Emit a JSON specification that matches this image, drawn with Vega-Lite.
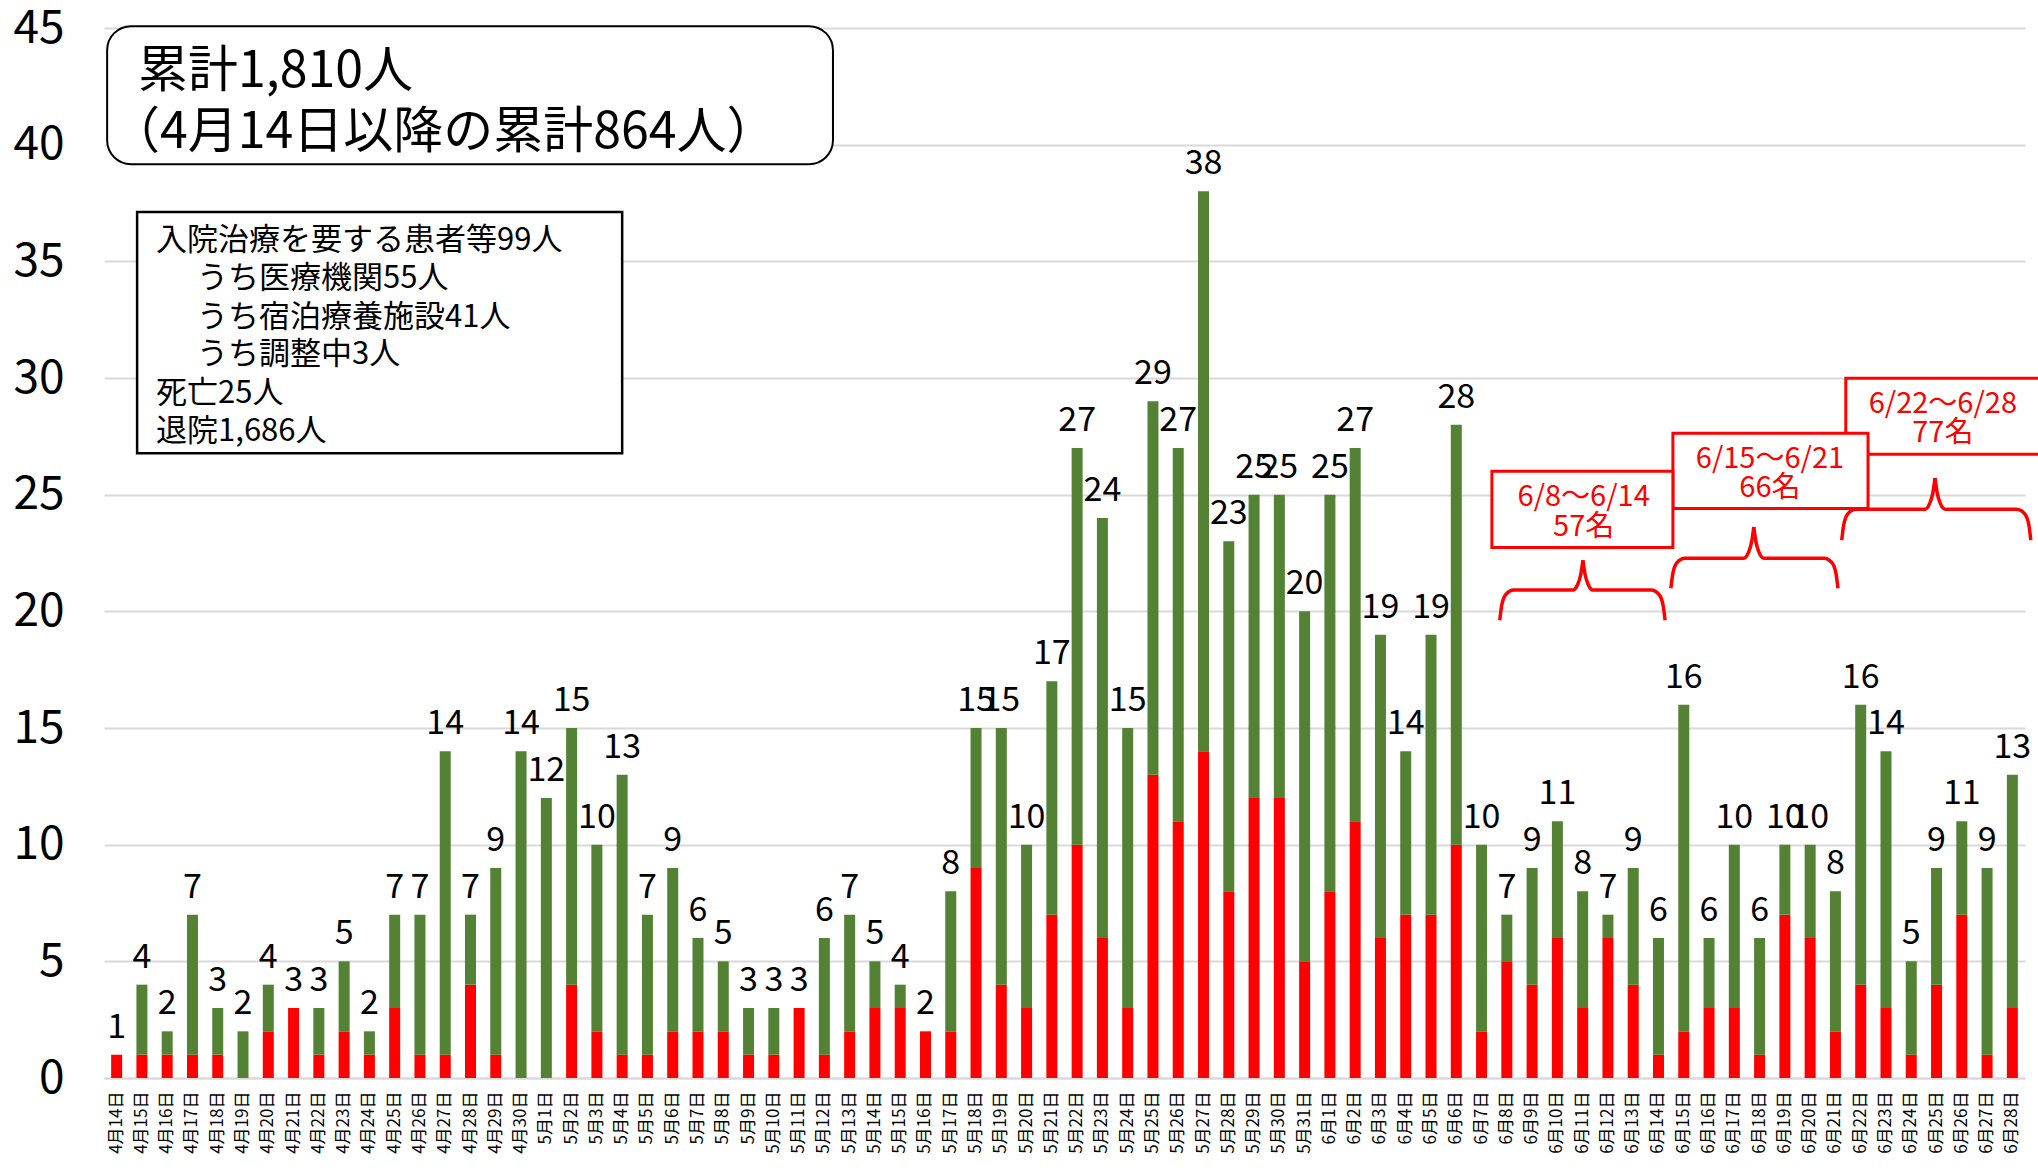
{
  "$schema": "https://vega.github.io/schema/vega-lite/v6.json",
  "width": 1921,
  "height": 1050,
  "autosize": {"type": "none"},
  "padding": {"left": 104, "top": 28, "right": 13, "bottom": 90},
  "background": "white",
  "config": {"view": {"stroke": null}, "font": "Noto Sans CJK JP", "text": {"font": "Noto Sans CJK JP"}},
  "datasets": {
    "bars": [
      {"date": "4月14日", "red": 1, "total": 1},
      {"date": "4月15日", "red": 1, "total": 4},
      {"date": "4月16日", "red": 1, "total": 2},
      {"date": "4月17日", "red": 1, "total": 7},
      {"date": "4月18日", "red": 1, "total": 3},
      {"date": "4月19日", "red": 0, "total": 2},
      {"date": "4月20日", "red": 2, "total": 4},
      {"date": "4月21日", "red": 3, "total": 3},
      {"date": "4月22日", "red": 1, "total": 3},
      {"date": "4月23日", "red": 2, "total": 5},
      {"date": "4月24日", "red": 1, "total": 2},
      {"date": "4月25日", "red": 3, "total": 7},
      {"date": "4月26日", "red": 1, "total": 7},
      {"date": "4月27日", "red": 1, "total": 14},
      {"date": "4月28日", "red": 4, "total": 7},
      {"date": "4月29日", "red": 1, "total": 9},
      {"date": "4月30日", "red": 0, "total": 14},
      {"date": "5月1日", "red": 0, "total": 12},
      {"date": "5月2日", "red": 4, "total": 15},
      {"date": "5月3日", "red": 2, "total": 10},
      {"date": "5月4日", "red": 1, "total": 13},
      {"date": "5月5日", "red": 1, "total": 7},
      {"date": "5月6日", "red": 2, "total": 9},
      {"date": "5月7日", "red": 2, "total": 6},
      {"date": "5月8日", "red": 2, "total": 5},
      {"date": "5月9日", "red": 1, "total": 3},
      {"date": "5月10日", "red": 1, "total": 3},
      {"date": "5月11日", "red": 3, "total": 3},
      {"date": "5月12日", "red": 1, "total": 6},
      {"date": "5月13日", "red": 2, "total": 7},
      {"date": "5月14日", "red": 3, "total": 5},
      {"date": "5月15日", "red": 3, "total": 4},
      {"date": "5月16日", "red": 2, "total": 2},
      {"date": "5月17日", "red": 2, "total": 8},
      {"date": "5月18日", "red": 9, "total": 15},
      {"date": "5月19日", "red": 4, "total": 15},
      {"date": "5月20日", "red": 3, "total": 10},
      {"date": "5月21日", "red": 7, "total": 17},
      {"date": "5月22日", "red": 10, "total": 27},
      {"date": "5月23日", "red": 6, "total": 24},
      {"date": "5月24日", "red": 3, "total": 15},
      {"date": "5月25日", "red": 13, "total": 29},
      {"date": "5月26日", "red": 11, "total": 27},
      {"date": "5月27日", "red": 14, "total": 38},
      {"date": "5月28日", "red": 8, "total": 23},
      {"date": "5月29日", "red": 12, "total": 25},
      {"date": "5月30日", "red": 12, "total": 25},
      {"date": "5月31日", "red": 5, "total": 20},
      {"date": "6月1日", "red": 8, "total": 25},
      {"date": "6月2日", "red": 11, "total": 27},
      {"date": "6月3日", "red": 6, "total": 19},
      {"date": "6月4日", "red": 7, "total": 14},
      {"date": "6月5日", "red": 7, "total": 19},
      {"date": "6月6日", "red": 10, "total": 28},
      {"date": "6月7日", "red": 2, "total": 10},
      {"date": "6月8日", "red": 5, "total": 7},
      {"date": "6月9日", "red": 4, "total": 9},
      {"date": "6月10日", "red": 6, "total": 11},
      {"date": "6月11日", "red": 3, "total": 8},
      {"date": "6月12日", "red": 6, "total": 7},
      {"date": "6月13日", "red": 4, "total": 9},
      {"date": "6月14日", "red": 1, "total": 6},
      {"date": "6月15日", "red": 2, "total": 16},
      {"date": "6月16日", "red": 3, "total": 6},
      {"date": "6月17日", "red": 3, "total": 10},
      {"date": "6月18日", "red": 1, "total": 6},
      {"date": "6月19日", "red": 7, "total": 10},
      {"date": "6月20日", "red": 6, "total": 10},
      {"date": "6月21日", "red": 2, "total": 8},
      {"date": "6月22日", "red": 4, "total": 16},
      {"date": "6月23日", "red": 3, "total": 14},
      {"date": "6月24日", "red": 1, "total": 5},
      {"date": "6月25日", "red": 4, "total": 9},
      {"date": "6月26日", "red": 7, "total": 11},
      {"date": "6月27日", "red": 1, "total": 9},
      {"date": "6月28日", "red": 3, "total": 13}
    ],
    "braces": [
      {"part": "b1L", "o": 1, "x": 54.72, "y": 19.62},
      {"part": "b1L", "o": 2, "x": 54.80, "y": 20.27},
      {"part": "b1L", "o": 3, "x": 54.96, "y": 20.72},
      {"part": "b1L", "o": 4, "x": 55.27, "y": 20.91},
      {"part": "b1L", "o": 5, "x": 57.61, "y": 20.91},
      {"part": "b1L", "o": 6, "x": 57.81, "y": 21.17},
      {"part": "b1L", "o": 7, "x": 57.93, "y": 21.61},
      {"part": "b1L", "o": 8, "x": 58.01, "y": 22.19},
      {"part": "b1R", "o": 1, "x": 58.01, "y": 22.19},
      {"part": "b1R", "o": 2, "x": 58.09, "y": 21.61},
      {"part": "b1R", "o": 3, "x": 58.21, "y": 21.17},
      {"part": "b1R", "o": 4, "x": 58.41, "y": 20.91},
      {"part": "b1R", "o": 5, "x": 60.71, "y": 20.91},
      {"part": "b1R", "o": 6, "x": 61.02, "y": 20.72},
      {"part": "b1R", "o": 7, "x": 61.18, "y": 20.27},
      {"part": "b1R", "o": 8, "x": 61.26, "y": 19.62},
      {"part": "b2L", "o": 1, "x": 61.49, "y": 20.99},
      {"part": "b2L", "o": 2, "x": 61.57, "y": 21.64},
      {"part": "b2L", "o": 3, "x": 61.73, "y": 22.09},
      {"part": "b2L", "o": 4, "x": 62.04, "y": 22.28},
      {"part": "b2L", "o": 5, "x": 64.37, "y": 22.28},
      {"part": "b2L", "o": 6, "x": 64.57, "y": 22.55},
      {"part": "b2L", "o": 7, "x": 64.69, "y": 23.01},
      {"part": "b2L", "o": 8, "x": 64.77, "y": 23.61},
      {"part": "b2R", "o": 1, "x": 64.77, "y": 23.61},
      {"part": "b2R", "o": 2, "x": 64.85, "y": 23.01},
      {"part": "b2R", "o": 3, "x": 64.97, "y": 22.55},
      {"part": "b2R", "o": 4, "x": 65.17, "y": 22.28},
      {"part": "b2R", "o": 5, "x": 67.55, "y": 22.28},
      {"part": "b2R", "o": 6, "x": 67.86, "y": 22.09},
      {"part": "b2R", "o": 7, "x": 68.02, "y": 21.64},
      {"part": "b2R", "o": 8, "x": 68.10, "y": 20.99},
      {"part": "b3L", "o": 1, "x": 68.25, "y": 23.05},
      {"part": "b3L", "o": 2, "x": 68.33, "y": 23.72},
      {"part": "b3L", "o": 3, "x": 68.49, "y": 24.18},
      {"part": "b3L", "o": 4, "x": 68.80, "y": 24.38},
      {"part": "b3L", "o": 5, "x": 71.54, "y": 24.38},
      {"part": "b3L", "o": 6, "x": 71.74, "y": 24.65},
      {"part": "b3L", "o": 7, "x": 71.86, "y": 25.11},
      {"part": "b3L", "o": 8, "x": 71.94, "y": 25.71},
      {"part": "b3R", "o": 1, "x": 71.94, "y": 25.71},
      {"part": "b3R", "o": 2, "x": 72.02, "y": 25.11},
      {"part": "b3R", "o": 3, "x": 72.14, "y": 24.65},
      {"part": "b3R", "o": 4, "x": 72.34, "y": 24.38},
      {"part": "b3R", "o": 5, "x": 75.18, "y": 24.38},
      {"part": "b3R", "o": 6, "x": 75.49, "y": 24.18},
      {"part": "b3R", "o": 7, "x": 75.65, "y": 23.72},
      {"part": "b3R", "o": 8, "x": 75.73, "y": 23.05}
    ]
  },
  "layer": [
    {
      "data": {"name": "bars"},
      "encoding": {
        "x": {
          "field": "date", "type": "nominal", "sort": null,
          "scale": {"paddingInner": 0.565, "paddingOuter": 0.2825},
          "axis": {"title": null, "labelAngle": 270, "labelFontSize": 17, "labelPadding": 13, "labelColor": "#000", "ticks": false, "domainColor": "#D9D9D9", "domainWidth": 2, "labelFont": "Noto Sans CJK JP"}
        }
      },
      "layer": [
        {
          "mark": {"type": "bar", "color": "#FF0000"},
          "encoding": {
            "y": {
              "field": "red", "type": "quantitative", "title": null,
              "scale": {"domain": [0, 45], "nice": false},
              "axis": {"values": [0, 5, 10, 15, 20, 25, 30, 35, 40, 45], "grid": true, "gridColor": "#D9D9D9", "gridWidth": 2, "domain": false, "ticks": false, "labelFontSize": 46, "labelPadding": 40, "labelColor": "#000", "labelFont": "Noto Sans CJK JP"}
            }
          }
        },
        {
          "mark": {"type": "bar", "color": "#548235"},
          "encoding": {
            "y": {"field": "red", "type": "quantitative", "title": null},
            "y2": {"field": "total"}
          }
        },
        {
          "mark": {"type": "text", "fontSize": 34, "baseline": "alphabetic", "dy": -17, "color": "#000", "font": "Noto Sans CJK JP"},
          "encoding": {
            "y": {"field": "total", "type": "quantitative", "title": null},
            "text": {"field": "total"}
          }
        }
      ]
    },
    {
      "data": {"values": [{"x": -0.376, "x2": 28.34, "y": 45.08, "y2": 39.16}]},
      "mark": {"type": "rect", "fill": "white", "stroke": "#000", "strokeWidth": 2, "cornerRadius": 24},
      "encoding": {
        "x": {"field": "x", "type": "quantitative", "scale": {"domain": [-0.5, 75.5], "nice": false, "zero": false}, "axis": null},
        "x2": {"field": "x2"},
        "y": {"field": "y", "type": "quantitative", "scale": {"domain": [0, 45], "nice": false, "zero": false}, "axis": null},
        "y2": {"field": "y2"}
      }
    },
    {
      "data": {"values": [
        {"t": "累計1,810人", "x": 0.85, "y": 43.1},
        {"t": "（4月14日以降の累計864人）", "x": -0.26, "y": 40.49}
      ]},
      "mark": {"type": "text", "fontSize": 50, "align": "left", "baseline": "middle", "color": "#000", "font": "Noto Sans CJK JP"},
      "encoding": {
        "x": {"field": "x", "type": "quantitative", "scale": {"domain": [-0.5, 75.5], "nice": false, "zero": false}, "axis": null},
        "y": {"field": "y", "type": "quantitative", "scale": {"domain": [0, 45], "nice": false, "zero": false}, "axis": null},
        "text": {"field": "t"}
      }
    },
    {
      "data": {"values": [{"x": 0.81, "x2": 20.0, "y": 37.11, "y2": 26.77}]},
      "mark": {"type": "rect", "fill": "white", "stroke": "#000", "strokeWidth": 2.5},
      "encoding": {
        "x": {"field": "x", "type": "quantitative", "scale": {"domain": [-0.5, 75.5], "nice": false, "zero": false}, "axis": null},
        "x2": {"field": "x2"},
        "y": {"field": "y", "type": "quantitative", "scale": {"domain": [0, 45], "nice": false, "zero": false}, "axis": null},
        "y2": {"field": "y2"}
      }
    },
    {
      "data": {"values": [
        {"t": "入院治療を要する患者等99人", "x": 1.56, "y": 35.86},
        {"t": "うち医療機関55人", "x": 3.18, "y": 34.23},
        {"t": "うち宿泊療養施設41人", "x": 3.18, "y": 32.56},
        {"t": "うち調整中3人", "x": 3.18, "y": 30.98},
        {"t": "死亡25人", "x": 1.56, "y": 29.31},
        {"t": "退院1,686人", "x": 1.56, "y": 27.68}
      ]},
      "mark": {"type": "text", "fontSize": 31, "align": "left", "baseline": "middle", "color": "#000", "font": "Noto Sans CJK JP"},
      "encoding": {
        "x": {"field": "x", "type": "quantitative", "scale": {"domain": [-0.5, 75.5], "nice": false, "zero": false}, "axis": null},
        "y": {"field": "y", "type": "quantitative", "scale": {"domain": [0, 45], "nice": false, "zero": false}, "axis": null},
        "text": {"field": "t"}
      }
    },
    {
      "data": {"name": "braces"},
      "mark": {"type": "line", "color": "#FF0000", "strokeWidth": 3.5, "interpolate": "monotone"},
      "encoding": {
        "x": {"field": "x", "type": "quantitative", "scale": {"domain": [-0.5, 75.5], "nice": false, "zero": false}, "axis": null},
        "y": {"field": "y", "type": "quantitative", "scale": {"domain": [0, 45], "nice": false, "zero": false}, "axis": null},
        "detail": {"field": "part"},
        "order": {"field": "o"}
      }
    },
    {
      "data": {"values": [
        {"x": 68.41, "x2": 76.1, "y": 29.99, "y2": 26.73},
        {"x": 61.57, "x2": 69.29, "y": 27.63, "y2": 24.41},
        {"x": 54.41, "x2": 61.57, "y": 26.0, "y2": 22.74}
      ]},
      "mark": {"type": "rect", "fill": "white", "stroke": "#FF0000", "strokeWidth": 3},
      "encoding": {
        "x": {"field": "x", "type": "quantitative", "scale": {"domain": [-0.5, 75.5], "nice": false, "zero": false}, "axis": null},
        "x2": {"field": "x2"},
        "y": {"field": "y", "type": "quantitative", "scale": {"domain": [0, 45], "nice": false, "zero": false}, "axis": null},
        "y2": {"field": "y2"}
      }
    },
    {
      "data": {"values": [
        {"t": "6/22～6/28", "x": 72.25, "y": 28.87},
        {"t": "77名", "x": 72.25, "y": 27.63},
        {"t": "6/15～6/21", "x": 65.41, "y": 26.52},
        {"t": "66名", "x": 65.41, "y": 25.27},
        {"t": "6/8～6/14", "x": 58.04, "y": 24.88},
        {"t": "57名", "x": 58.04, "y": 23.60}
      ]},
      "mark": {"type": "text", "fontSize": 29, "align": "center", "baseline": "middle", "color": "#FF0000", "font": "Noto Sans CJK JP"},
      "encoding": {
        "x": {"field": "x", "type": "quantitative", "scale": {"domain": [-0.5, 75.5], "nice": false, "zero": false}, "axis": null},
        "y": {"field": "y", "type": "quantitative", "scale": {"domain": [0, 45], "nice": false, "zero": false}, "axis": null},
        "text": {"field": "t"}
      }
    }
  ],
  "resolve": {"scale": {"x": "independent", "y": "independent"}}
}
